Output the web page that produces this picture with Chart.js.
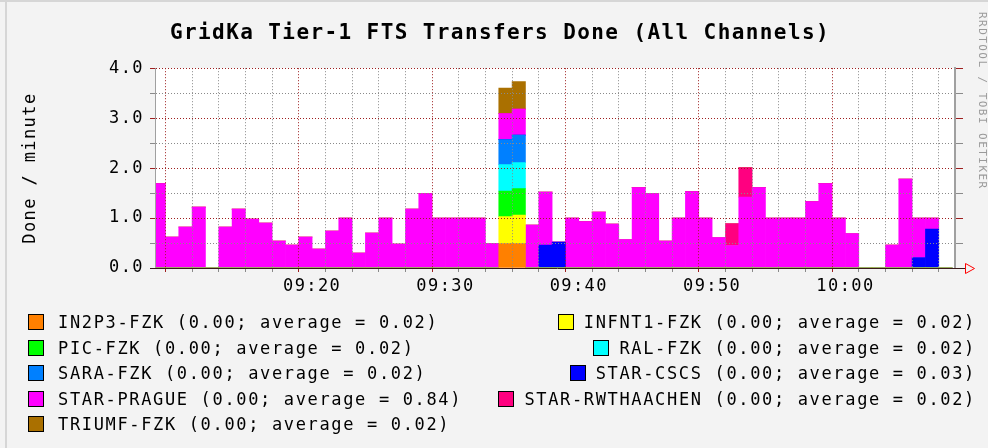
<!DOCTYPE html>
<html><head><meta charset="utf-8">
<script src="https://cdn.jsdelivr.net/npm/chart.js@4.4.0/dist/chart.umd.min.js"></script>
<style>
html,body{margin:0;padding:0;background:#f3f3f3;}
#wrap{position:relative;width:988px;height:448px;overflow:hidden;background:#f3f3f3;}
#c{position:absolute;left:0;top:0;}
.leg{position:absolute;height:20px;font:17px "DejaVu Sans Mono",monospace;letter-spacing:1.65px;color:#000;line-height:20px;white-space:pre;display:flex;align-items:center;}
.box{width:14px;height:14px;border:1px solid #000;flex:none;}
#credit{position:absolute;left:976px;top:12px;font:11px "DejaVu Sans Mono",monospace;letter-spacing:1.45px;color:#9a9a9a;writing-mode:vertical-rl;white-space:pre;}
#topline{position:absolute;left:0;top:0;width:988px;height:2px;background:#d6d6d6;}
#leftline{position:absolute;left:5px;top:0;width:2px;height:448px;background:#d6d6d6;}
</style>
</head><body>
<div id="wrap">
<div id="topline"></div><div id="leftline"></div>
<canvas id="c" width="988" height="448"></canvas>
<div id="credit">RRDTOOL / TOBI OETIKER</div>
</div>
<script>
// ---- DATA ----
const minutes = ['09:08','09:09','09:10','09:11','09:12','09:13','09:14','09:15','09:16','09:17',
  '09:18','09:19','09:20','09:21','09:22','09:23','09:24','09:25','09:26','09:27',
  '09:28','09:29','09:30','09:31','09:32','09:33','09:34','09:35','09:36','09:37',
  '09:38','09:39','09:40','09:41','09:42','09:43','09:44','09:45','09:46','09:47',
  '09:48','09:49','09:50','09:51','09:52','09:53','09:54','09:55','09:56','09:57',
  '09:58','09:59','10:00','10:01','10:02','10:03','10:04','10:05','10:06','10:07'];

const xTickLabels = ['09:20','09:30','09:40','09:50','10:00'];
const yTickLabels = ['0.0','1.0','2.0','3.0','4.0'];

const seriesNames = ['IN2P3-FZK','INFNT1-FZK','PIC-FZK','RAL-FZK','SARA-FZK','STAR-CSCS','STAR-PRAGUE','STAR-RWTHAACHEN','TRIUMF-FZK'];
const seriesColors = ['#FF8000','#FFFF00','#00FF00','#00FFFF','#0080FF','#0000FF','#FF00FF','#FF0080','#AA7000'];
const currentValues = ['0.00','0.00','0.00','0.00','0.00','0.00','0.00','0.00','0.00'];
const averageValues = ['0.02','0.02','0.02','0.02','0.02','0.03','0.84','0.02','0.02'];

const in2p3 = [0,0,0,0,0,0,0,0,0,0, 0,0,0,0,0,0,0,0,0,0, 0,0,0,0,0,0,0.49,0.49,0,0,
  0,0,0,0,0,0,0,0,0,0, 0,0,0,0,0,0,0,0,0,0, 0,0,0,0,0,0,0,0,0,0];
const infnt1 = [0,0,0,0,0,0,0,0,0,0, 0,0,0,0,0,0,0,0,0,0, 0,0,0,0,0,0,0.54,0.57,0,0,
  0,0,0,0,0,0,0,0,0,0, 0,0,0,0,0,0,0,0,0,0, 0,0,0,0,0,0,0,0,0,0];
const pic = [0,0,0,0,0,0,0,0,0,0, 0,0,0,0,0,0,0,0,0,0, 0,0,0,0,0,0,0.51,0.53,0,0,
  0,0,0,0,0,0,0,0,0,0, 0,0,0,0,0,0,0,0,0,0, 0,0,0,0,0,0,0,0,0,0];
const ral = [0,0,0,0,0,0,0,0,0,0, 0,0,0,0,0,0,0,0,0,0, 0,0,0,0,0,0,0.53,0.52,0,0,
  0,0,0,0,0,0,0,0,0,0, 0,0,0,0,0,0,0,0,0,0, 0,0,0,0,0,0,0,0,0,0];
const sara = [0,0,0,0,0,0,0,0,0,0, 0,0,0,0,0,0,0,0,0,0, 0,0,0,0,0,0,0.50,0.55,0,0,
  0,0,0,0,0,0,0,0,0,0, 0,0,0,0,0,0,0,0,0,0, 0,0,0,0,0,0,0,0,0,0];
const starCscs = [0,0,0,0,0,0,0,0,0,0, 0,0,0,0,0,0,0,0,0,0, 0,0,0,0,0,0,0,0,0,0.46,
  0.52,0,0,0,0,0,0,0,0,0, 0,0,0,0,0,0,0,0,0,0, 0,0,0,0,0,0,0,0.21,0.78,0];
const starPrague = [1.69,0.62,0.82,1.22,0,0.82,1.18,0.98,0.90,0.54,
  0.46,0.62,0.38,0.74,1.00,0.30,0.70,1.00,0.48,1.18,
  1.49,1.00,1.00,1.00,1.00,0.49,0.52,0.52,0.86,1.06,
  0,1.00,0.93,1.12,0.88,0.57,1.61,1.49,0.54,1.00,
  1.53,1.00,0.61,0.45,1.42,1.61,1.00,1.00,1.00,1.33,
  1.69,1.00,0.69,0,0,0.46,1.78,0.79,0.22,0];
const starRwth = [0,0,0,0,0,0,0,0,0,0, 0,0,0,0,0,0,0,0,0,0, 0,0,0,0,0,0,0,0,0,0,
  0,0,0,0,0,0,0,0,0,0, 0,0,0,0.44,0.59,0,0,0,0,0, 0,0,0,0,0,0,0,0,0,0];
const triumf = [0,0,0,0,0,0,0,0,0,0, 0,0,0,0,0,0,0,0,0,0, 0,0,0,0,0,0,0.51,0.55,0,0,
  0,0,0,0,0,0,0,0,0,0, 0,0,0,0,0,0,0,0,0,0, 0,0,0,0,0,0,0,0,0,0];

const seriesValues = [in2p3, infnt1, pic, ral, sara, starCscs, starPrague, starRwth, triumf];

// time axis window
const axisStart = '09:08:13';
const axisEnd = '10:08:13';
const yTickValues = [0,0.5,1,1.5,2,2.5,3,3.5,4];

// ---- helpers ----
function toMin(s){const p=s.split(':').map(Number);return (p[0]-9)*60+p[1]+(p[2]||0)/60;}
const xMin = toMin(axisStart), xMax = toMin(axisEnd);
const xTickValues = [];
for (let m = Math.ceil(xMin/2)*2; m <= xMax; m += 2) xTickValues.push(m);
const xLabelMap = {}; xTickLabels.forEach(l=>{xLabelMap[toMin(l)] = l;});
const yLabelMap = {}; yTickLabels.forEach(l=>{yLabelMap[Number(l)] = l;});

const FONT = '"DejaVu Sans Mono", monospace';
const RED = '#9e1f1f', GRAY = '#8a8a8a';

const datasets = seriesNames.map((n,i)=>({
  label:n,
  data: seriesValues[i].map((v,k)=>({x: toMin(minutes[k]) + 0.5, y: v})),
  backgroundColor: seriesColors[i],
  borderWidth: 0,
  categoryPercentage: 1,
  barPercentage: 1,
  clip: 0
}));

const spacing = {
  id:'spacing',
  beforeLayout(c){c.ctx.letterSpacing='1.4px';},
  beforeDraw(c){
    c.ctx.letterSpacing='1.4px';
    const a=c.chartArea, ctx=c.ctx;
    ctx.save(); ctx.fillStyle='#fff'; ctx.fillRect(a.left,a.top,a.right-a.left,a.bottom-a.top); ctx.restore();
  },
  afterDraw(c){
    const a=c.chartArea, ctx=c.ctx;
    ctx.save();
    ctx.strokeStyle='#3a1a1a'; ctx.lineWidth=1;
    ctx.beginPath(); ctx.moveTo(a.left-5, a.bottom+0.5); ctx.lineTo(a.right+10, a.bottom+0.5); ctx.stroke();
    ctx.strokeStyle='#ff0000';
    ctx.beginPath();
    ctx.moveTo(a.right+10.5, a.bottom-4.5); ctx.lineTo(a.right+19.5, a.bottom+0.5); ctx.lineTo(a.right+10.5, a.bottom+5.5); ctx.closePath();
    ctx.stroke();
    ctx.restore();
  }
};

new Chart(document.getElementById('c'), {
  type:'bar',
  data:{datasets},
  options:{
    responsive:false, animation:false, devicePixelRatio:1,
    layout:{padding:{left:12,right:0,top:0,bottom:150}},
    plugins:{
      legend:{display:false}, tooltip:{enabled:false},
      title:{display:true, text:'GridKa Tier-1 FTS Transfers Done (All Channels)', color:'#000',
        font:{family:FONT,size:21,weight:'bold'}, padding:{top:21,bottom:22}}
    },
    scales:{
      x:{type:'linear', min:xMin, max:xMax, stacked:true, offset:false,
        afterBuildTicks(s){ s.ticks = xTickValues.map(v=>({value:v})); },
        afterFit(s){ s.height = 30; },
        ticks:{autoSkip:false, maxRotation:0, color:'#000', font:{family:FONT,size:17}, padding:4,
          callback:(v)=> xLabelMap[v] || ''},
        grid:{z:1, color:(ctx)=> ctx.tick && ctx.tick.value%10===0 ? RED : GRAY,
          tickColor:(ctx)=> ctx.tick && ctx.tick.value%10===0 ? RED : GRAY,
          tickLength:4, lineWidth:1, tickBorderDash:[]},
        border:{display:false, dash:[1,2], z:1}
      },
      y:{min:0, max:4, stacked:true, position:'left',
        afterBuildTicks(s){ s.ticks = yTickValues.map(v=>({value:v})); },
        afterFit(s){ s.width = 143; },
        ticks:{autoSkip:false, color:'#000', font:{family:FONT,size:17}, padding:6,
          callback:(v)=> yLabelMap[v] || ''},
        title:{display:true, text:'Done / minute', color:'#000', font:{family:FONT,size:17}, padding:{top:8,bottom:0}},
        grid:{z:1, color:(ctx)=> ctx.tick && Number.isInteger(ctx.tick.value) ? RED : GRAY,
          tickColor:(ctx)=> ctx.tick && Number.isInteger(ctx.tick.value) ? RED : GRAY,
          tickLength:5, lineWidth:1, tickBorderDash:[]},
        border:{display:true, color:'#a0a0a0', width:1, dash:[1,2], z:1}
      },
      y2:{min:0, max:4, position:'right',
        afterBuildTicks(s){ s.ticks = yTickValues.map(v=>({value:v})); },
        afterFit(s){ s.width = 33; },
        ticks:{display:false},
        grid:{drawOnChartArea:false, z:1,
          tickColor:(ctx)=> ctx.tick && Number.isInteger(ctx.tick.value) ? RED : GRAY,
          tickLength:8, lineWidth:1, tickBorderDash:[]},
        border:{display:true, color:'#a0a0a0', width:2, z:1}
      }
    }
  },
  plugins:[spacing]
});

// ---- legend (HTML) ----
const wrap = document.getElementById('wrap');
const rowCenters = [322, 347.5, 373, 398.5, 424];
seriesNames.forEach((n,i)=>{
  const row = Math.floor(i/2), col = i%2;
  const d = document.createElement('div');
  d.className='leg';
  d.style.top = (rowCenters[row]-10)+'px';
  const b = document.createElement('span'); b.className='box'; b.style.background = seriesColors[i];
  const t = document.createElement('span');
  t.textContent = n+' ('+currentValues[i]+'; average = '+averageValues[i]+')';
  if (col===0){ d.style.left='28px'; t.style.marginLeft='14px'; }
  else { d.style.right='12px'; t.style.marginLeft='10px'; }
  d.appendChild(b); d.appendChild(t);
  wrap.appendChild(d);
});
</script>
</body></html>
